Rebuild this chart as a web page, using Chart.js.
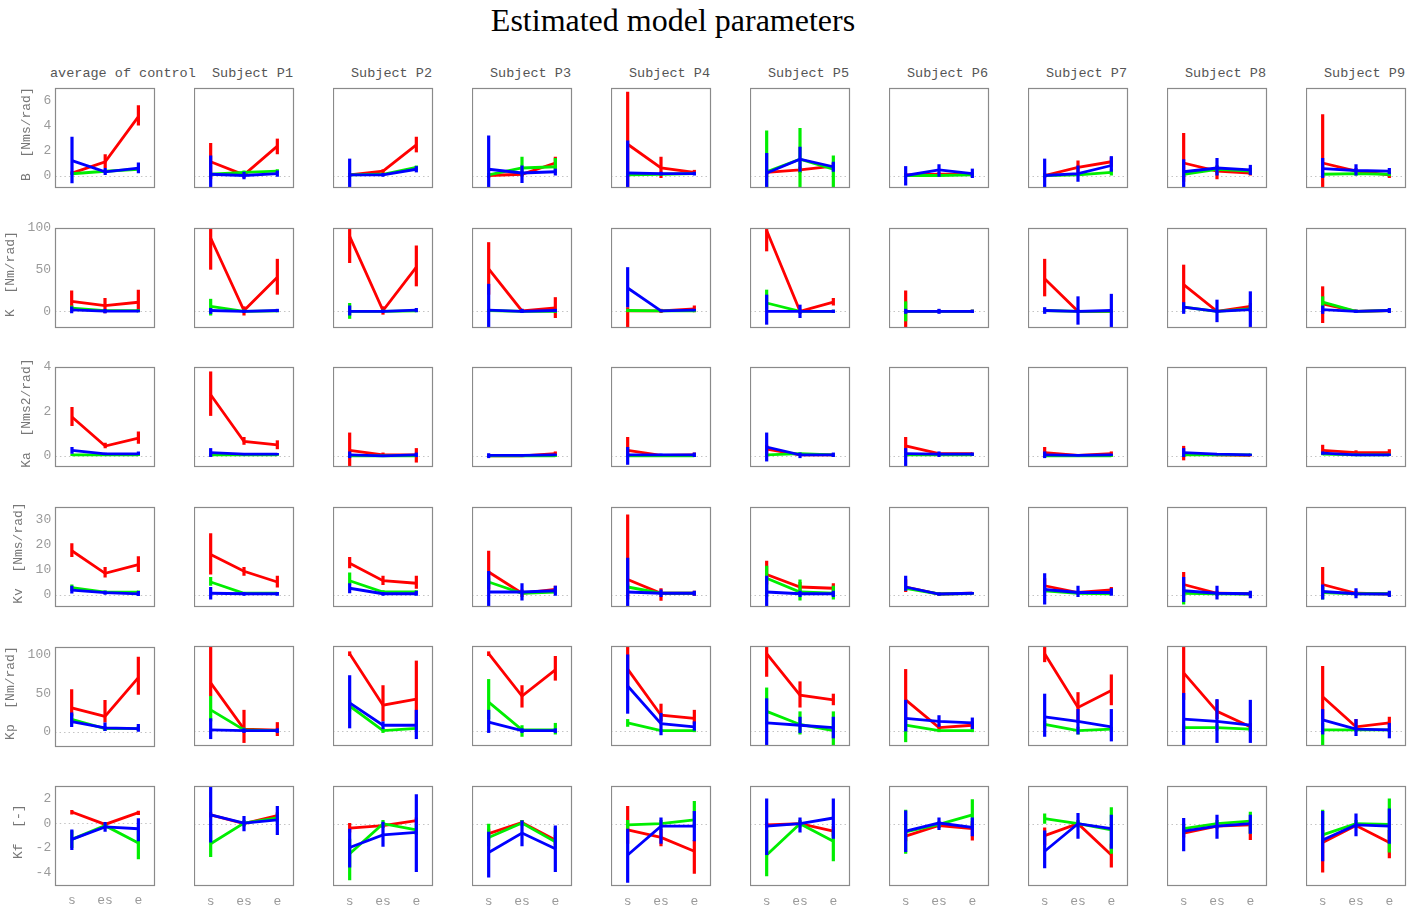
<!DOCTYPE html>
<html><head><meta charset="utf-8">
<script src="https://cdn.jsdelivr.net/npm/chart.js@4.4.1/dist/chart.umd.min.js"></script>
<style>
html,body{margin:0;padding:0;background:#fff;}
body{width:1421px;height:911px;position:relative;overflow:hidden;}
#title{position:absolute;left:373px;width:600px;top:4px;line-height:32px;text-align:center;font-family:"Liberation Serif","Times New Roman",serif;font-size:32px;color:#000;white-space:nowrap;}
.coltitle{position:absolute;top:67px;line-height:14px;font-family:"Liberation Mono",monospace;font-size:13.5px;color:#555;white-space:pre;}
canvas{position:absolute;}
</style></head><body>
<div id="title">Estimated model parameters</div>
<script>
// ---------------- DATA ----------------
const subjects = ["average of control","Subject P1","Subject P2","Subject P3","Subject P4","Subject P5","Subject P6","Subject P7","Subject P8","Subject P9"];
const xLabels = ["s","es","e"];
const paramLabels = ["B  [Nms/rad]","K  [Nm/rad]","Ka  [Nms2/rad]","Kv  [Nms/rad]","Kp  [Nm/rad]","Kf  [-]"];
const seriesNames = ["red","green","blue"];
const yMin = [-1, -20, -0.5, -5, -20, -5];
const yMax = [7, 100, 4, 35, 110, 3];
const yTicks = [[0,2,4,6],[0,50,100],[0,2,4],[0,10,20,30],[0,50,100],[-4,-2,0,2]];

// each entry: [value, lower, upper] at s, es, e ; one entry per subject
const B_red = [
 [[0.2,0.1,0.35],[1.1,0.6,1.7],[4.7,4.0,5.6]],
 [[1.1,-0.3,2.6],[0.05,-0.2,0.3],[2.35,1.7,2.95]],
 [[0.05,-0.1,0.2],[0.35,0.2,0.5],[2.45,1.85,3.1]],
 [[0.0,-0.2,0.2],[0.1,-0.1,0.3],[1.0,0.5,1.5]],
 [[2.5,-1.2,6.7],[0.6,-0.2,1.5],[0.25,0.05,0.45]],
 [[0.25,0.0,0.5],[0.45,0.2,0.7],[0.75,0.5,1.0]],
 [[0.05,-0.1,0.2],[0.1,-0.05,0.25],[0.1,-0.05,0.25]],
 [[0.0,-0.2,0.2],[0.65,0.1,1.2],[1.1,0.7,1.45]],
 [[1.0,-0.5,3.4],[0.35,-0.3,0.8],[0.2,0.0,0.4]],
 [[1.0,-1.2,4.9],[0.35,0.1,0.6],[0.05,-0.2,0.3]]
];
const B_green = [
 [[0.15,0.05,0.25],[0.35,0.2,0.5],[0.5,0.35,0.65]],
 [[0.1,0.0,0.2],[0.25,0.1,0.4],[0.35,0.2,0.5]],
 [[0.05,-0.05,0.15],[0.1,0.0,0.2],[0.65,0.4,0.8]],
 [[0.05,-0.1,0.2],[0.6,0.0,1.5],[0.7,0.2,1.4]],
 [[0.05,-0.05,0.15],[0.1,0.0,0.2],[0.15,0.05,0.25]],
 [[0.3,-1.2,3.6],[1.3,-1.2,3.8],[0.5,-1.2,1.6]],
 [[0.0,-0.1,0.1],[0.0,-0.1,0.1],[0.05,-0.05,0.15]],
 [[0.0,-0.1,0.1],[0.05,-0.05,0.15],[0.25,0.0,0.5]],
 [[0.1,-0.1,0.3],[0.5,0.2,0.8],[0.35,0.1,0.6]],
 [[0.1,-0.05,0.25],[0.15,0.0,0.3],[0.1,-0.05,0.25]]
];
const B_blue = [
 [[1.2,-0.6,3.1],[0.3,0.05,0.6],[0.6,0.2,1.05]],
 [[0.1,-1.5,1.6],[0.0,-0.3,0.3],[0.15,-0.1,0.4]],
 [[0.05,-1.0,1.35],[0.05,-0.1,0.2],[0.5,0.25,0.75]],
 [[0.5,-1.2,3.2],[0.2,-0.6,0.8],[0.3,0.0,0.55]],
 [[0.2,-1.2,2.8],[0.15,0.0,0.3],[0.15,0.0,0.3]],
 [[0.2,-1.2,1.8],[1.3,0.3,2.3],[0.7,0.3,1.1]],
 [[0.0,-0.8,0.75],[0.45,-0.1,0.9],[0.15,-0.2,0.55]],
 [[0.0,-1.2,1.35],[0.15,-0.5,0.8],[0.8,0.3,1.55]],
 [[0.3,-1.2,1.3],[0.6,0.0,1.4],[0.45,0.05,0.85]],
 [[0.55,-0.2,1.4],[0.4,0.0,0.9],[0.35,0.1,0.6]]
];

const K_red = [
 [[12,5,25],[7,-2,16],[11,0,26]],
 [[88,50,125],[1,-5,6],[41,20,63]],
 [[90,58,125],[1,-4,6],[53,30,79]],
 [[51,20,83],[0.5,-2,3],[4,-8,17]],
 [[0.5,-30,5],[0.5,-2,3],[3,-1,7]],
 [[97,72,125],[0,-3,3],[11,7,16]],
 [[0,-30,25],[0,-2,2],[0,-2,2]],
 [[39,18,63],[0,-2,2],[0,-2,2]],
 [[32,10,56],[0,-2,2],[6,2,10]],
 [[9,-14,30],[0,-2,2],[1,-1,3]]
];
const K_green = [
 [[4,1,7],[1,-1,3],[1,-1,3]],
 [[6,-5,15],[0,-2,2],[0.5,-1,2]],
 [[0,-9,10],[0,-2,2],[0.5,-1,2]],
 [[1,-1,3],[0,-2,2],[0,-2,2]],
 [[1,-1,3],[0.5,-1,2],[0.5,-1,2]],
 [[10,2,26],[0,-2,2],[0,-2,2]],
 [[0,-12,12],[0,-2,2],[0,-2,2]],
 [[1,-1,3],[0,-2,2],[0,-2,2]],
 [[5,0,10],[0,-2,2],[3,0,8]],
 [[11,4,18],[0,-2,2],[1,-1,3]]
];
const K_blue = [
 [[2,-2,6],[0.5,-2,3],[0.5,-1,2]],
 [[1,-3,4],[0,-2,2],[1,-1,3]],
 [[0,-5,7],[0,-2,2],[1.5,-1,4]],
 [[1.5,-25,33],[0,-2,3],[1,-1,3]],
 [[28,5,53],[0.5,-1,2],[1.5,0,3]],
 [[0,-16,20],[0,-8,8],[0,-2,2]],
 [[0,-3,3],[0,-3,3],[0,-2,2]],
 [[1,-3,5],[0,-16,18],[1,-20,21]],
 [[5,-3,11],[0,-13,14],[2,-22,24]],
 [[2,-3,7],[0,-2,2],[1,-2,4]]
];

const Ka_red = [
 [[1.75,1.35,2.2],[0.45,0.35,0.6],[0.8,0.55,1.1]],
 [[2.75,1.8,3.8],[0.65,0.5,0.85],[0.5,0.3,0.7]],
 [[0.25,-0.6,1.05],[0.05,-0.05,0.15],[0.05,-0.3,0.35]],
 [[0.0,-0.05,0.05],[0.0,-0.05,0.05],[0.1,0.0,0.2]],
 [[0.25,-0.05,0.85],[0.02,-0.03,0.07],[0.05,-0.05,0.15]],
 [[0.3,0.1,0.5],[0.05,0.0,0.1],[0.05,0.0,0.1]],
 [[0.45,0.1,0.85],[0.1,0.05,0.15],[0.1,0.05,0.15]],
 [[0.15,0.0,0.4],[0.02,-0.02,0.06],[0.1,0.0,0.2]],
 [[0.1,-0.2,0.45],[0.05,0.0,0.1],[0.02,-0.02,0.06]],
 [[0.25,0.05,0.5],[0.15,0.05,0.25],[0.15,0.05,0.3]]
];
const Ka_green = [
 [[0.05,0.0,0.1],[0.05,0.0,0.1],[0.05,0.0,0.1]],
 [[0.05,0.0,0.1],[0.05,0.0,0.1],[0.05,0.0,0.1]],
 [[0.0,-0.05,0.05],[0.0,-0.05,0.05],[0.0,-0.05,0.05]],
 [[0.0,-0.05,0.05],[0.0,-0.05,0.05],[0.0,-0.05,0.05]],
 [[0.0,-0.05,0.05],[0.0,-0.05,0.05],[0.0,-0.05,0.05]],
 [[0.05,0.0,0.1],[0.1,0.05,0.15],[0.05,0.0,0.1]],
 [[0.05,0.0,0.1],[0.05,0.0,0.1],[0.05,0.0,0.1]],
 [[0.0,-0.05,0.05],[0.0,-0.05,0.05],[0.0,-0.05,0.05]],
 [[0.05,0.0,0.1],[0.05,0.0,0.1],[0.05,0.0,0.1]],
 [[0.08,0.03,0.13],[0.05,0.0,0.1],[0.05,0.0,0.1]]
];
const Ka_blue = [
 [[0.25,0.1,0.4],[0.1,0.05,0.15],[0.1,0.05,0.2]],
 [[0.15,-0.05,0.35],[0.08,0.03,0.13],[0.08,0.03,0.13]],
 [[0.05,-0.1,0.2],[0.0,-0.05,0.05],[0.05,-0.05,0.15]],
 [[0.02,-0.1,0.12],[0.02,-0.03,0.07],[0.05,0.0,0.1]],
 [[0.05,-0.4,0.4],[0.05,0.0,0.1],[0.05,-0.05,0.15]],
 [[0.4,-0.25,1.05],[0.05,-0.1,0.15],[0.05,-0.05,0.15]],
 [[0.1,-0.5,0.35],[0.08,-0.05,0.2],[0.08,0.0,0.15]],
 [[0.05,-0.1,0.2],[0.02,-0.02,0.06],[0.05,0.0,0.1]],
 [[0.15,-0.05,0.35],[0.08,0.03,0.13],[0.05,0.0,0.1]],
 [[0.12,0.05,0.2],[0.05,0.0,0.1],[0.05,0.0,0.1]]
];

const Kv_red = [
 [[17.5,15,20.5],[8.5,6.8,11],[12,9,15.3]],
 [[16,8,24.5],[9.3,7.5,11],[5,2.8,7.5]],
 [[12.5,10.5,15],[5.5,3.8,7.5],[4.5,2.3,7.5]],
 [[9,2,17.5],[0.5,-1,2],[2,0.5,3.5]],
 [[6,-2,32],[0.5,-2.5,2.5],[0.5,-0.5,1.5]],
 [[8,4,13.5],[3,1,5],[2.5,1,4.5]],
 [[3,1,6],[0.2,-0.5,0.8],[0.5,0,1]],
 [[3.5,1.5,6.5],[0.8,0,1.5],[1.8,0.5,3]],
 [[4,1,9],[0.5,-0.5,1.5],[0.3,-0.5,1]],
 [[4,0,11],[0.5,-0.5,1.5],[0.2,-0.5,1]]
];
const Kv_green = [
 [[2.8,1.5,4],[1,0.3,1.7],[1,0.3,1.7]],
 [[5,3.5,7],[0.5,0,1],[0.5,0,1]],
 [[5.5,4,8.8],[1,0.3,1.7],[1,0.3,1.7]],
 [[5,3.5,6.5],[0.5,0,1],[1,0.3,1.7]],
 [[3,2,4],[0.5,0,1],[0.5,0,1]],
 [[6.5,-1,11.5],[1,-2.4,6],[0.5,-2,3.5]],
 [[2.5,1.5,3.5],[0.2,-0.3,0.7],[0.4,0,0.8]],
 [[1.5,0.5,2.5],[0.5,0,1],[0.3,-0.2,0.8]],
 [[0.5,-4,3],[0.3,-0.5,1],[0.2,-0.5,1]],
 [[0.8,-2,3],[0.3,-0.5,1],[0.3,-0.5,1]]
];
const Kv_blue = [
 [[1.8,0.5,3.5],[0.8,0,1.6],[0.3,-0.5,1.5]],
 [[0.5,-2,3],[0.3,-0.5,1],[0.3,-0.5,1]],
 [[2.5,0.5,4.5],[0.3,-0.5,1],[0.3,-0.5,1.5]],
 [[1,-6,9.4],[1,-2.4,4.5],[1.5,-0.5,3.5]],
 [[1,-6,14.7],[0.5,-1,2],[0.5,-0.5,1.5]],
 [[1,-6,7.5],[0.3,-1,1.5],[0.3,-1,1.5]],
 [[3,1.5,7.5],[0.2,-0.5,0.8],[0.5,0,1]],
 [[2,-4,8.5],[0.8,-1,3.5],[0.8,-0.5,2.5]],
 [[1.5,-3,7],[0.5,-2,3.5],[0.3,-1.5,1.5]],
 [[1.2,-2,4],[0.3,-1.5,2.5],[0.2,-1,1.5]]
];

const Kp_red = [
 [[31,20,55],[20,12,41],[70,48,97]],
 [[62,45,125],[2,-16,27],[0.5,-7,11]],
 [[100,97,103],[33,12,59],[41,5,91]],
 [[100,97,103],[45,30,59],[79,65,97]],
 [[80,55,125],[20,12,35],[16,8,27]],
 [[100,70,125],[46,30,64],[40,33,48]],
 [[40,15,80],[4,0,8],[7,2,12]],
 [[100,89,125],[30,10,50],[52,33,73]],
 [[75,40,125],[25,15,40],[5,0,10]],
 [[44,15,84],[5,0,15],[10,5,18]]
];
const Kp_green = [
 [[16,10,23],[4,1,7],[4,1,7]],
 [[27,12,45],[1,-2,4],[0,-2,2]],
 [[32,25,40],[0,-3,3],[3,0,6]],
 [[37,15,67],[1,-8,7],[1,-5,10]],
 [[10,5,15],[0,-2,2],[0,-2,2]],
 [[25,8,56],[8,-5,25],[0,-20,25]],
 [[7,-15,15],[0,-2,2],[0,-2,2]],
 [[8,3,13],[0,-5,5],[2,-1,5]],
 [[4,0,8],[4,0,8],[2,-1,5]],
 [[1,-20,10],[1,-2,4],[1,-2,4]]
];
const Kp_blue = [
 [[13,6,25],[5,1,12],[4,0,10]],
 [[1,-11,16],[0,-3,3],[0,-3,3]],
 [[36,3,72],[7,2,12],[7,-11,27]],
 [[11,-3,27],[0,-3,3],[0,-3,3]],
 [[58,22,99],[9,-6,23],[5,0,12]],
 [[10,-25,42],[7,-3,18],[4,-10,18]],
 [[16,-1,40],[12,5,20],[10,2,17]],
 [[18,-8,48],[12,-5,28],[5,-14,28]],
 [[15,-25,49],[12,-16,41],[7,-16,40]],
 [[14,-5,28],[2,-7,15],[1,-10,10]]
];

const Kf_red = [
 [[0.9,0.7,1.05],[-0.1,-0.25,0.05],[0.85,0.65,1.0]],
 [[0.7,0.5,0.9],[0.0,-0.2,0.2],[0.65,0.4,0.9]],
 [[-0.35,-0.7,0.05],[-0.15,-0.35,0.05],[0.25,0.0,0.5]],
 [[-0.8,-1.2,-0.4],[0.1,-0.1,0.3],[-1.3,-1.7,-0.9]],
 [[-0.5,-1.6,1.4],[-1.1,-1.8,-0.4],[-2.2,-4.0,-1.3]],
 [[-0.1,-0.3,0.1],[0.0,-0.2,0.2],[-0.6,-1.0,-0.2]],
 [[-1.0,-1.4,-0.6],[-0.15,-0.35,0.05],[-0.4,-1.35,0.2]],
 [[-0.95,-1.7,-0.3],[0.0,-0.2,0.2],[-2.5,-3.5,-1.6]],
 [[-0.75,-1.1,-0.4],[-0.2,-0.4,0.0],[-0.1,-1.3,0.3]],
 [[-1.5,-3.9,-0.5],[-0.15,-0.35,0.05],[-1.5,-2.75,-0.5]]
];
const Kf_green = [
 [[-1.3,-2.0,-0.6],[-0.2,-0.4,0.0],[-1.6,-2.9,-0.6]],
 [[-1.6,-2.65,-0.5],[0.05,-0.2,0.3],[0.45,0.1,0.8]],
 [[-2.4,-4.5,-1.2],[0.0,-0.3,0.3],[-0.5,-0.9,-0.1]],
 [[-1.1,-1.8,0.0],[0.05,-0.2,0.3],[-1.45,-2.0,-0.3]],
 [[-0.1,-0.4,0.3],[0.0,-0.3,0.3],[0.3,-0.3,1.8]],
 [[-2.5,-4.2,-0.5],[0.0,-0.3,0.3],[-1.4,-3.0,-0.5]],
 [[-0.65,-2.4,1.1],[-0.05,-0.3,0.2],[0.7,-0.2,1.95]],
 [[0.4,0.0,0.8],[0.0,-0.3,0.3],[-0.5,-2.4,1.3]],
 [[-0.4,-0.8,0.0],[0.0,-0.3,0.3],[0.2,-0.8,0.95]],
 [[-0.9,-1.5,1.1],[0.0,-0.3,0.3],[-0.05,-2.3,2.0]]
];
const Kf_blue = [
 [[-1.3,-2.15,-0.5],[-0.3,-0.7,0.1],[-0.45,-1.45,0.4]],
 [[0.7,-1.5,3.2],[0.05,-0.6,0.6],[0.3,-0.9,1.4]],
 [[-1.9,-3.5,-0.4],[-0.9,-1.85,0.15],[-0.7,-3.85,2.35]],
 [[-2.3,-4.3,-0.65],[-0.75,-1.8,0.25],[-2.0,-3.85,-0.15]],
 [[-2.5,-4.7,-0.4],[-0.2,-1.6,0.5],[-0.2,-1.4,1.0]],
 [[-0.2,-2.5,2.0],[0.0,-0.7,0.5],[0.45,-1.2,2.0]],
 [[-0.6,-2.25,1.05],[0.05,-0.5,0.5],[-0.3,-1.0,0.5]],
 [[-2.2,-3.55,-0.55],[0.0,-1.2,0.85],[-0.4,-2.0,0.7]],
 [[-0.6,-2.2,0.45],[-0.2,-1.2,0.7],[0.0,-0.8,0.7]],
 [[-1.3,-3.0,1.0],[-0.1,-1.0,0.8],[-0.2,-1.6,1.2]]
];

// ---------------- LAYOUT / STYLE ----------------
const rows = [
  [B_red, B_green, B_blue],
  [K_red, K_green, K_blue],
  [Ka_red, Ka_green, Ka_blue],
  [Kv_red, Kv_green, Kv_blue],
  [Kp_red, Kp_green, Kp_blue],
  [Kf_red, Kf_green, Kf_blue]
];
const colors = ['#ff0000', '#00ee00', '#0000ff'];
const PW = 100, PH = 100;
const colLeft = c => 55 + c * 139.0;
const rowTop = r => 88 + r * 139.6;
const MONO = '"Liberation Mono", "DejaVu Sans Mono", monospace';

// column titles
subjects.forEach((s, c) => {
  const d = document.createElement('div');
  d.className = 'coltitle';
  d.textContent = s;
  document.body.appendChild(d);
  if (c === 0) { d.style.left = '50px'; }
  else { d.style.left = (colLeft(c) + PW - 1 - d.getBoundingClientRect().width) + 'px'; }
});

const panelPlugin = {
  id: 'panelDeco',
  beforeDatasetsDraw(chart) {
    const { ctx, chartArea: a } = chart;
    const y = chart.scales.y;
    const py = Math.round(y.getPixelForValue(0)) + 0.5;
    ctx.save();
    ctx.strokeStyle = '#c4c4c4';
    ctx.lineWidth = 1;
    ctx.setLineDash([1.5, 3]);
    ctx.beginPath(); ctx.moveTo(a.left, py); ctx.lineTo(a.right, py); ctx.stroke();
    ctx.restore();
  },
  afterDatasetDraw(chart, args) {
    const ds = chart.data.datasets[args.index];
    const meta = args.meta;
    const y = chart.scales.y;
    const a = chart.chartArea;
    const ctx = chart.ctx;
    ctx.save();
    ctx.beginPath(); ctx.rect(a.left, a.top, a.right - a.left, a.bottom - a.top); ctx.clip();
    ctx.strokeStyle = ds.borderColor;
    ctx.lineWidth = 3.2;
    ctx.lineCap = 'butt';
    ds.errors.forEach((e, i) => {
      const x = meta.data[i].x;
      ctx.beginPath();
      ctx.moveTo(x, y.getPixelForValue(e[0]));
      ctx.lineTo(x, y.getPixelForValue(e[1]));
      ctx.stroke();
    });
    ctx.restore();
  },
  afterDraw(chart) {
    const { ctx, chartArea: a } = chart;
    ctx.save();
    ctx.strokeStyle = '#8a8a8a';
    ctx.lineWidth = 1.2;
    ctx.strokeRect(Math.round(a.left) + 0.5, Math.round(a.top) + 0.5, Math.round(a.right - a.left) - 1, Math.round(a.bottom - a.top) - 1);
    ctx.restore();
  }
};

function makeConfig(r, c) {
  return {
    type: 'line',
    data: {
      datasets: rows[r].map((arr, k) => ({
        label: seriesNames[k],
        data: arr[c].map((t, i) => ({ x: i + 1, y: t[0] })),
        errors: arr[c].map(t => [t[1], t[2]]),
        borderColor: colors[k],
        backgroundColor: colors[k],
        borderWidth: 2.8,
        pointRadius: 0,
        tension: 0,
        fill: false,
        order: 3 - k,
        clip: 0
      }))
    },
    options: {
      responsive: false,
      maintainAspectRatio: false,
      animation: false,
      devicePixelRatio: 1,
      events: [],
      layout: { padding: { left: 0, right: 2, top: 2, bottom: 2 } },
      plugins: { legend: { display: false }, tooltip: { enabled: false }, title: { display: false } },
      scales: {
        x: {
          type: 'linear', min: 0.5, max: 3.5,
          grid: { display: false, drawTicks: false, tickLength: 0 }, border: { display: false },
          afterBuildTicks: s => { s.ticks = xLabels.map((_, i) => ({ value: i + 1 })); },
          ticks: {
            display: r === rows.length - 1, autoSkip: false, maxRotation: 0, padding: 7,
            color: '#9a9a9a', font: { family: MONO, size: 13 },
            callback: (v, i) => xLabels[i]
          }
        },
        y: {
          min: yMin[r], max: yMax[r],
          grid: { display: false, drawTicks: false, tickLength: 0 }, border: { display: false },
          afterBuildTicks: s => { s.ticks = yTicks[r].map(v => ({ value: v })); },
          ticks: { display: c === 0, padding: 4, color: '#9a9a9a', font: { family: MONO, size: 13 } },
          title: { display: c === 0, text: ' ' + paramLabels[r], color: '#777', font: { family: MONO, size: 13 }, padding: { top: 0, bottom: 5 } }
        }
      }
    },
    plugins: [panelPlugin]
  };
}

for (let r = 0; r < rows.length; r++) {
  for (let c = 0; c < subjects.length; c++) {
    const cv = document.createElement('canvas');
    cv.width = 300; cv.height = 200;
    cv.style.width = '300px'; cv.style.height = '200px';
    document.body.appendChild(cv);
    let ch = new Chart(cv, makeConfig(r, c));
    const a = ch.chartArea;
    const L = a.left, T = a.top, R = 300 - a.right, B = 200 - a.bottom;
    ch.destroy();
    const W = Math.round(L + PW + R), H = Math.round(T + PH + B);
    cv.width = W; cv.height = H;
    cv.style.width = W + 'px'; cv.style.height = H + 'px';
    cv.style.left = (colLeft(c) - L) + 'px';
    cv.style.top = (rowTop(r) - T) + 'px';
    new Chart(cv, makeConfig(r, c));
  }
}
</script>
</body></html>
